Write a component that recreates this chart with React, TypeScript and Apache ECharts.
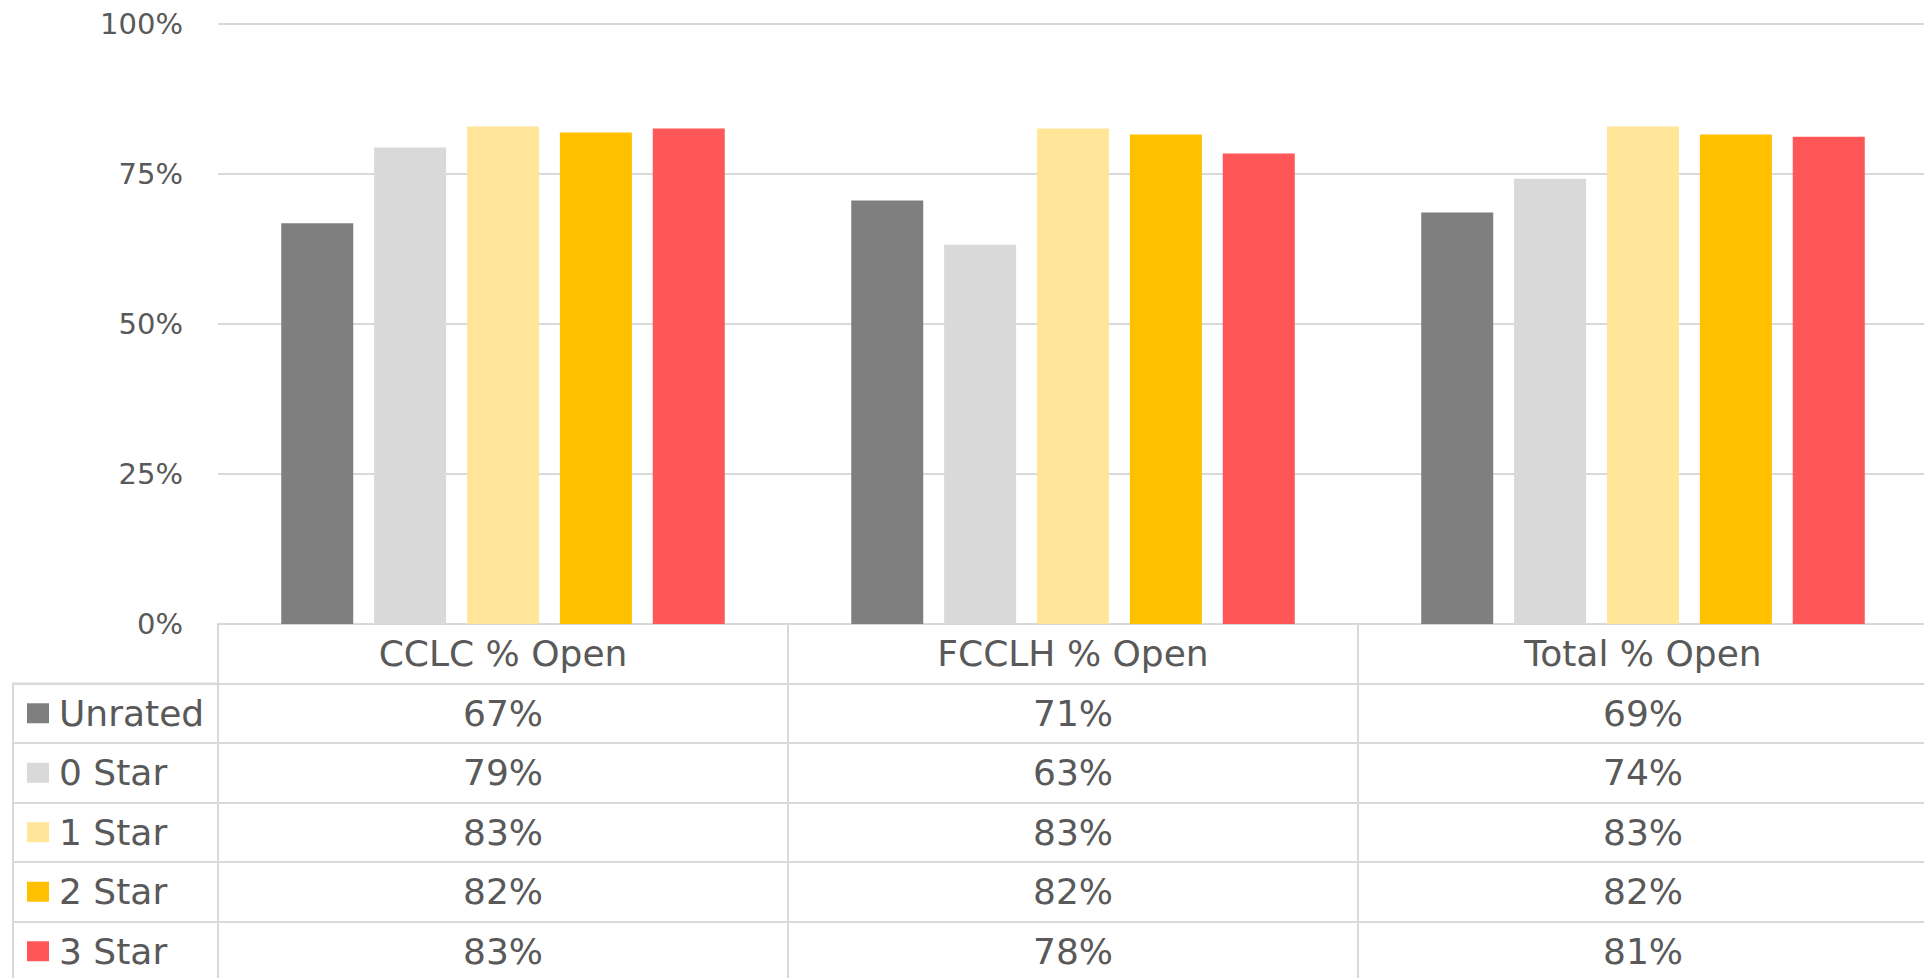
import React, { useEffect, useRef } from "react";
import * as echarts from "echarts";

const categories = ["CCLC % Open", "FCCLH % Open", "Total % Open"];
const seriesNames = ["Unrated", "0 Star", "1 Star", "2 Star", "3 Star"];
const unrated = [66.8, 70.6, 68.6];
const star0 = [79.4, 63.2, 74.2];
const star1 = [82.9, 82.6, 82.9];
const star2 = [81.9, 81.6, 81.6];
const star3 = [82.6, 78.4, 81.2];
const yTicks = [0, 25, 50, 75, 100];
const colors = ["#7f7f7f", "#d9d9d9", "#ffe699", "#ffc000", "#ff5757"];

const seriesValues = [unrated, star0, star1, star2, star3];
const HEADER = "__header";

export default function App() {
  const ref = useRef<HTMLDivElement>(null);
  useEffect(() => {
    if (!ref.current) return;
    const chart = echarts.init(ref.current, undefined, { renderer: "svg" });
    const font = "DejaVu Sans";
    const textColor = "#595959";
    const lineColor = "#d9d9d9";

    const tableData: any[] = [];
    categories.forEach((c) => {
      tableData.push({ value: [c, HEADER], text: c });
    });
    seriesNames.forEach((s, si) => {
      categories.forEach((c, ci) => {
        tableData.push({ value: [c, s], text: Math.round(seriesValues[si][ci]) + "%" });
      });
    });

    const rich: any = {
      t: { fontFamily: font, fontSize: 36, color: textColor, padding: [0, 0, 0, 10] },
    };
    colors.forEach((col, i) => {
      rich["sq" + i] = { backgroundColor: col, width: 22, height: 20 };
    });

    chart.setOption({
      animation: false,
      backgroundColor: "#ffffff",
      textStyle: { fontFamily: font },
      grid: [
        { left: 218, width: 1710, top: 24, height: 600 },
        {
          left: 218,
          width: 1710,
          top: 624,
          height: 357,
          show: true,
          borderColor: lineColor,
          borderWidth: 2,
        },
        {
          left: 13,
          width: 205,
          top: 683.5,
          height: 297.5,
          show: true,
          borderColor: lineColor,
          borderWidth: 2,
        },
      ],
      xAxis: [
        {
          type: "category",
          gridIndex: 0,
          data: categories,
          axisLabel: { show: false },
          axisTick: { show: false },
          axisLine: { show: true, lineStyle: { color: lineColor, width: 2 } },
        },
        {
          type: "category",
          gridIndex: 1,
          data: categories,
          axisLabel: { show: false },
          axisTick: { show: false },
          axisLine: { show: false },
          splitLine: { show: true, lineStyle: { color: lineColor, width: 2 } },
        },
        {
          type: "value",
          gridIndex: 2,
          min: 0,
          max: 1,
          show: false,
        },
      ],
      yAxis: [
        {
          type: "value",
          gridIndex: 0,
          min: yTicks[0],
          max: yTicks[yTicks.length - 1],
          interval: 25,
          axisLine: { show: false },
          axisTick: { show: false },
          axisLabel: {
            formatter: "{value}%",
            fontFamily: font,
            fontSize: 29,
            color: textColor,
            margin: 35,
          },
          splitLine: { show: true, lineStyle: { color: lineColor, width: 2 } },
        },
        {
          type: "category",
          gridIndex: 1,
          inverse: true,
          data: [HEADER, ...seriesNames],
          axisLabel: { show: false },
          axisTick: { show: false },
          axisLine: { show: false },
          splitLine: { show: true, lineStyle: { color: lineColor, width: 2 } },
        },
        {
          type: "category",
          gridIndex: 2,
          inverse: true,
          data: seriesNames,
          axisTick: { show: false },
          axisLine: { show: false },
          splitLine: { show: true, lineStyle: { color: lineColor, width: 2 } },
          axisLabel: {
            inside: true,
            margin: 14,
            formatter: (v: string, i: number) => `{sq${i}|}{t|${v}}`,
            rich,
          },
        },
      ],
      series: [
        ...seriesNames.map((name, i) => ({
          name,
          type: "bar",
          xAxisIndex: 0,
          yAxisIndex: 0,
          data: seriesValues[i],
          barWidth: 72,
          barGap: "29%",
          itemStyle: { color: colors[i] },
        })),
        {
          name: "table",
          type: "scatter",
          xAxisIndex: 1,
          yAxisIndex: 1,
          symbol: "rect",
          symbolSize: 1,
          itemStyle: { color: "rgba(255,255,255,0)", opacity: 1 },
          data: tableData,
          label: {
            show: true,
            position: "inside",
            fontFamily: font,
            fontSize: 36,
            color: textColor,
            opacity: 1,
            formatter: (p: any) => p.data.text,
          },
        },
      ],
    });
    return () => chart.dispose();
  }, []);
  return (
    <div
      ref={ref}
      style={{ position: "fixed", left: 0, top: 0, width: 1940, height: 1000 }}
    />
  );
}
